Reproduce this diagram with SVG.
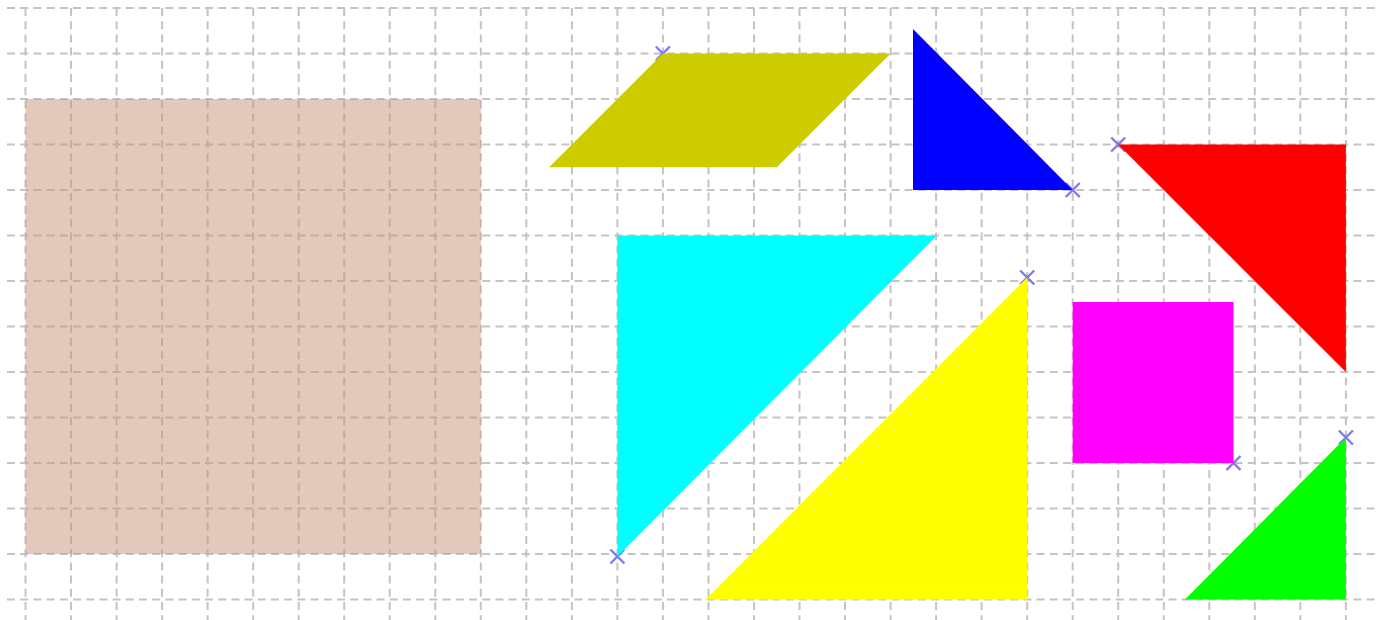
<svg xmlns="http://www.w3.org/2000/svg" width="1376" height="620" viewBox="0 0 1376 620">
<defs>
<style>
.grid{stroke:#c4c4c4;stroke-width:2;stroke-dasharray:8 5.2;fill:none}
.mk{stroke:#7b7bef;stroke-width:2.4;fill:none}
</style>
<path id="mark" class="mk" d="M-7,-7 L7,7 M-7,7 L7,-7"/>
</defs>
<rect width="1376" height="620" fill="#ffffff"/>
<g id="grid" class="grid">
<path d="M25.5,8V620M71,8V620M116.6,8V620M162.1,8V620M207.6,8V620M253.2,8V620M298.7,8V620M344.2,8V620M389.7,8V620M435.3,8V620M480.8,8V620M526.3,8V620M571.9,8V620M617.4,8V620M662.9,8V620M708.5,8V620M754,8V620M799.5,8V620M845,8V620M890.6,8V620M936.1,8V620M981.6,8V620M1027.2,8V620M1072.7,8V620M1118.2,8V620M1163.8,8V620M1209.3,8V620M1254.8,8V620M1300.3,8V620M1345.9,8V620"/>
<path d="M7,8H1376M7,53.5H1376M7,99H1376M7,144.5H1376M7,190H1376M7,235.5H1376M7,281H1376M7,326.5H1376M7,372H1376M7,417.5H1376M7,463H1376M7,508.5H1376M7,554H1376M7,599.5H1376"/>
</g>
<g id="square-target">
<rect x="25.5" y="99" width="455.3" height="455" fill="#c8917a" fill-opacity="0.5"/>
</g>
<g id="parallelogram">
<use href="#mark" x="662.9" y="53.5"/>
<polygon points="662.9,53.5 890.6,53.5 776.8,167.3 549.1,167.3" fill="#cccc00"/>
</g>
<g id="blue-triangle">
<use href="#mark" x="1072.7" y="190"/>
<polygon points="913,29 913,190 1072.7,190" fill="#0000ff"/>
</g>
<g id="red-triangle">
<use href="#mark" x="1118.2" y="144.5"/>
<polygon points="1118.2,144.5 1345.9,144.5 1345.9,372" fill="#ff0000"/>
</g>
<g id="magenta-square">
<use href="#mark" x="1233.5" y="463"/>
<rect x="1072.7" y="302" width="160.8" height="161" fill="#ff00ff"/>
</g>
<g id="green-triangle">
<use href="#mark" x="1345.9" y="437.5"/>
<polygon points="1345.9,437.5 1345.9,599.5 1185,599.5" fill="#00ff00"/>
</g>
<g id="yellow-triangle">
<use href="#mark" x="1027.2" y="277.5"/>
<polygon points="1027.2,277.5 1027.2,599.5 705.5,599.5" fill="#ffff00"/>
</g>
<g id="cyan-triangle">
<use href="#mark" x="617.4" y="556.5"/>
<polygon points="617.4,235.5 937,235.5 617.4,556.5" fill="#00ffff"/>
</g>
<g id="connectors"></g>
</svg>
